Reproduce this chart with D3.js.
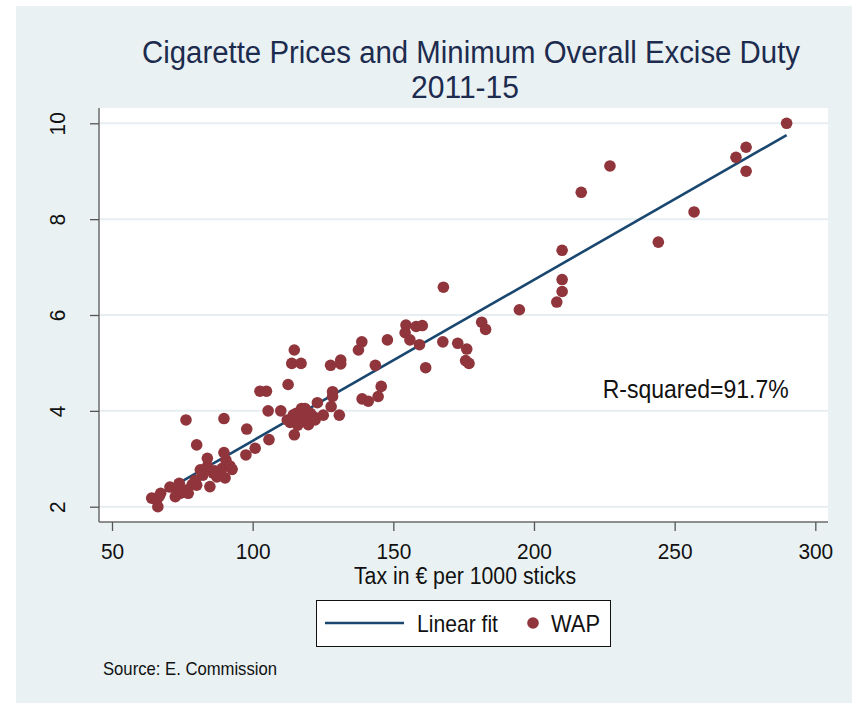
<!DOCTYPE html>
<html>
<head>
<meta charset="utf-8">
<script src="https://cdn.jsdelivr.net/npm/d3@7"></script>
<style>
  html, body { margin: 0; padding: 0; background: #ffffff; }
  svg text { font-family: "Liberation Sans", Arial, Helvetica, sans-serif; }
</style>
</head>
<body>
<svg id="chart" width="852" height="703"></svg>
<script>
// ---- data ----
const taxPer1000 = [
  64.1, 65.9, 66.3, 67.3, 66.8, 70.6, 72.5, 73.6, 73.9, 74.2, 75.3, 77.1, 76.3, 78.5, 80.1, 79.6,
  81.4, 82.3, 83.9, 83.9, 84.8, 86.0, 87.3, 86.5, 88.7, 89.2, 90.2, 90.5, 89.8, 91.9, 92.7, 80.1,
  76.3, 89.8, 97.6, 97.9, 100.9, 105.8,
  102.6, 104.9, 112.6, 105.5, 110.0, 113.9, 117.2, 114.8, 114.8, 112.3, 113.3, 114.4, 115.5, 116.8,
  116.0, 117.4, 118.6, 118.0, 119.8, 120.5, 121.6, 122.2, 123.0, 125.1, 127.9, 128.4, 128.4, 127.7,
  130.8, 131.3, 131.3, 137.6, 138.8, 138.9, 141.1, 143.6, 144.6, 145.7, 147.9, 154.2, 154.5, 155.9,
  158.1, 160.3, 159.3, 161.5, 167.6, 167.8, 172.9, 176.1, 175.7, 176.9, 181.4, 182.8, 194.8, 208.1,
  210.0, 210.0, 210.0, 216.8, 227.0, 244.2, 256.9, 271.8, 275.4, 275.4, 289.8
];
const wap = [
  2.18, 2.14, 2.00, 2.28, 2.22, 2.41, 2.21, 2.41, 2.49, 2.28, 2.31, 2.28, 2.35, 2.46, 2.45, 2.55,
  2.77, 2.66, 2.84, 3.01, 2.42, 2.70, 2.62, 2.75, 2.68, 2.80, 2.60, 2.97, 3.13, 2.85, 2.78, 3.29,
  3.81, 3.84, 3.08, 3.62, 3.22, 3.40,
  4.41, 4.41, 4.55, 4.00, 4.00, 4.99, 4.99, 5.27, 3.50, 3.81, 3.76, 3.91, 3.95, 3.81,
  3.70, 4.05, 4.05, 3.88, 3.71, 3.95, 3.88, 3.81, 4.17, 3.91, 4.09, 4.30, 4.40, 4.95,
  3.91, 5.06, 4.98, 5.27, 5.44, 4.25, 4.20, 4.95, 4.30, 4.51, 5.48, 5.63, 5.79, 5.48,
  5.76, 5.78, 5.38, 4.90, 5.44, 6.58, 5.41, 5.29, 5.05, 4.99, 5.85, 5.70, 6.11, 6.27,
  6.49, 6.74, 7.35, 8.56, 9.11, 7.52, 8.15, 9.29, 9.50, 9.00, 10.00
];
const fitIntercept = 0.015;   // linear fit
const fitSlope = 0.0336;
const xTicks = [50, 100, 150, 200, 250, 300];
const yTicks = [2, 4, 6, 8, 10];
const titleLines = ["Cigarette Prices and Minimum Overall Excise Duty", "2011-15"];
const xTitle = "Tax in \u20AC per 1000 sticks";
const rSquaredLabel = "R-squared=91.7%";
const rSquaredPos = [224.4, 4.2];
const legendLabels = ["Linear fit", "WAP"];
const sourceNote = "Source: E. Commission";

// ---- layout ----
const W = 852, H = 703;
const plot = { left: 99, right: 828, top: 108, bottom: 522 };
const bg = "#e9f1f3", grid = "#e6eef1";
const navy = "#1a476f", maroon = "#90353b", titleColor = "#1c2b4e";
const digitW = 11.6;

const svg = d3.select("#chart");
svg.append("rect").attr("x", 0).attr("y", 0).attr("width", W).attr("height", H).attr("fill", "#ffffff");
svg.append("rect").attr("x", 16).attr("y", 6).attr("width", W - 16).attr("height", H - 6).attr("fill", bg);
svg.append("rect").attr("x", plot.left).attr("y", plot.top)
  .attr("width", plot.right - plot.left).attr("height", plot.bottom - plot.top).attr("fill", "#ffffff");

const x = d3.scaleLinear().domain([45.38, 304.51]).range([plot.left, plot.right]);
const y = d3.scaleLinear().domain([1.681, 10.319]).range([plot.bottom, plot.top]);

// gridlines
svg.append("g").selectAll("line").data(yTicks).join("line")
  .attr("x1", plot.left).attr("x2", plot.right)
  .attr("y1", d => y(d)).attr("y2", d => y(d))
  .attr("stroke", grid).attr("stroke-width", 2);

// axes
const xAxis = svg.append("g").attr("transform", `translate(0,${plot.bottom})`)
  .call(d3.axisBottom(x).tickValues(xTicks).tickSize(9).tickPadding(11).tickSizeOuter(0));
const yAxis = svg.append("g").attr("transform", `translate(${plot.left},0)`)
  .call(d3.axisLeft(y).tickValues(yTicks).tickSize(9).tickSizeOuter(0));
[xAxis, yAxis].forEach(g => {
  g.select(".domain").attr("stroke", "#6b6b6b").attr("stroke-width", 1.5);
  g.selectAll(".tick line").attr("stroke", "#555").attr("stroke-width", 1.3);
  g.selectAll(".tick text").attr("fill", "#111").attr("font-size", 22.5)
    .attr("font-family", '"Liberation Sans", Arial, sans-serif')
    .attr("lengthAdjust", "spacingAndGlyphs")
    .attr("textLength", d => String(d).length * digitW);
});
xAxis.select(".domain").attr("d", `M${plot.left},0H${plot.right}`);
yAxis.select(".domain").attr("d", `M0,${plot.top}V${plot.bottom}`);
xAxis.selectAll(".tick text").attr("dy", null).attr("y", 37);
yAxis.selectAll(".tick text")
  .attr("x", null).attr("dy", null)
  .attr("text-anchor", "middle")
  .attr("transform", "translate(-34,0) rotate(-90)")
  .attr("y", 0);

// linear fit
const xExt = d3.extent(taxPer1000);
svg.append("line")
  .attr("x1", x(xExt[0])).attr("y1", y(fitIntercept + fitSlope * xExt[0]))
  .attr("x2", x(xExt[1])).attr("y2", y(fitIntercept + fitSlope * xExt[1]))
  .attr("stroke", navy).attr("stroke-width", 2.6);

// scatter
svg.append("g").selectAll("circle").data(d3.zip(taxPer1000, wap)).join("circle")
  .attr("cx", d => x(d[0])).attr("cy", d => y(d[1])).attr("r", 5.8)
  .attr("fill", maroon);

// R-squared text
svg.append("text").attr("x", x(rSquaredPos[0])).attr("y", 398)
  .attr("font-size", 25).attr("fill", "#111")
  .attr("textLength", 186).attr("lengthAdjust", "spacingAndGlyphs")
  .text(rSquaredLabel);

// title
svg.append("text").attr("x", 471).attr("y", 63).attr("text-anchor", "middle")
  .attr("font-size", 31).attr("fill", titleColor)
  .attr("textLength", 658).attr("lengthAdjust", "spacingAndGlyphs")
  .text(titleLines[0]);
svg.append("text").attr("x", 465).attr("y", 98).attr("text-anchor", "middle")
  .attr("font-size", 31).attr("fill", titleColor)
  .attr("textLength", 108).attr("lengthAdjust", "spacingAndGlyphs")
  .text(titleLines[1]);

// x axis title
svg.append("text").attr("x", 465).attr("y", 584).attr("text-anchor", "middle")
  .attr("font-size", 23).attr("fill", "#111")
  .attr("textLength", 222).attr("lengthAdjust", "spacingAndGlyphs")
  .text(xTitle);

// legend
const lg = svg.append("g");
lg.append("rect").attr("x", 316.5).attr("y", 600.5).attr("width", 294).attr("height", 46)
  .attr("fill", "#ffffff").attr("stroke", "#111").attr("stroke-width", 1);
lg.append("line").attr("x1", 325).attr("x2", 404).attr("y1", 623).attr("y2", 623)
  .attr("stroke", navy).attr("stroke-width", 2.6);
lg.append("text").attr("x", 417).attr("y", 632).attr("font-size", 24).attr("fill", "#111")
  .attr("textLength", 81).attr("lengthAdjust", "spacingAndGlyphs").text(legendLabels[0]);
lg.append("circle").attr("cx", 533).attr("cy", 623).attr("r", 5.8).attr("fill", maroon);
lg.append("text").attr("x", 551).attr("y", 632).attr("font-size", 24).attr("fill", "#111")
  .attr("textLength", 49).attr("lengthAdjust", "spacingAndGlyphs").text(legendLabels[1]);

// source note
svg.append("text").attr("x", 103).attr("y", 675).attr("font-size", 19).attr("fill", "#111")
  .attr("textLength", 174).attr("lengthAdjust", "spacingAndGlyphs")
  .text(sourceNote);
</script>
</body>
</html>
